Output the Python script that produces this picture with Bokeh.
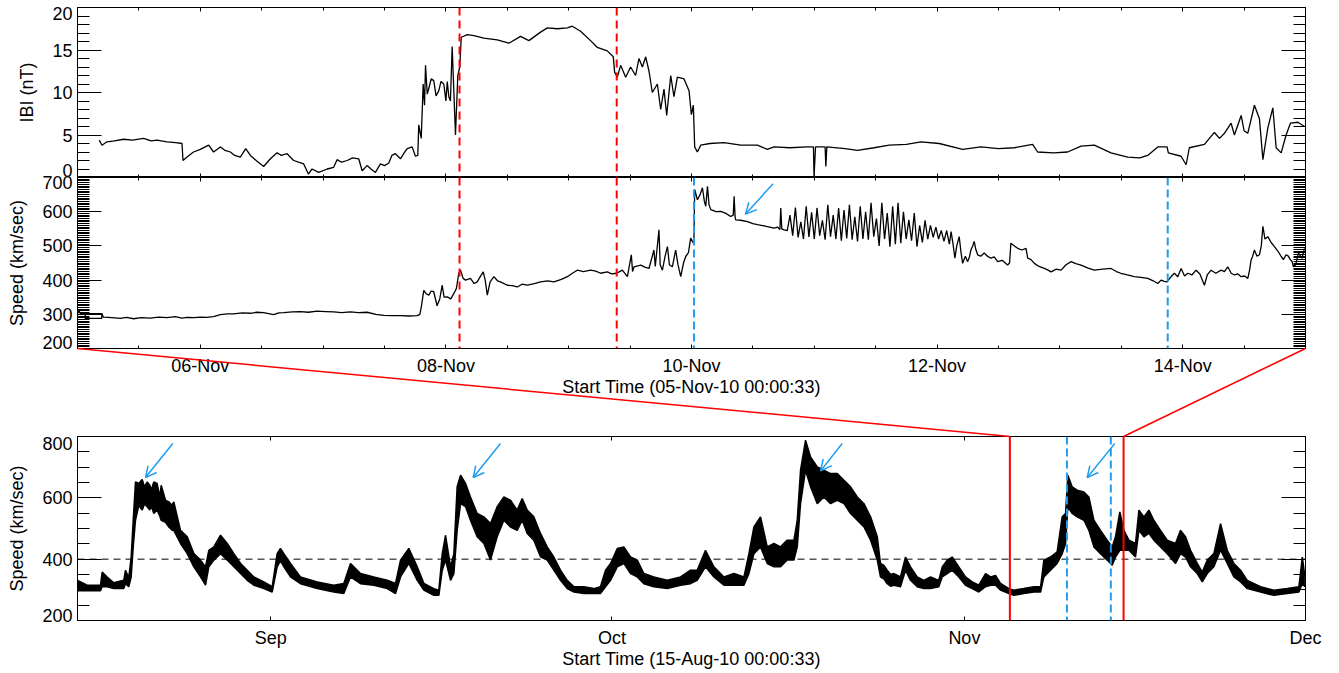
from datetime import datetime
from bokeh.plotting import figure
from bokeh.models import (FixedTicker, DatetimeTickFormatter, LinearAxis, DatetimeAxis,
                          Span, Arrow, OpenHead, Range1d, GridBox, CustomJSTickFormatter)
from bokeh.embed import file_html
from bokeh.resources import INLINE

# ---------------- data ----------------
# |B| (nT), days after 05-Nov-2010 00:00
ibi_day = [0.177,0.199,0.24,0.30,0.375,0.45,0.538,0.60,0.647,0.729,0.80,0.851,0.859,0.892,0.945,1.0,1.068,1.108,1.163,1.20,
           1.245,1.28,1.326,1.37,1.408,1.462,1.516,1.571,1.625,1.66,1.707,1.760,1.80,1.842,1.88,1.910,1.964,2.033,2.086,2.114,
           2.15,2.196,2.24,2.290,2.318,2.358,2.39,2.426,2.467,2.50,2.535,2.56,2.589,2.630,2.66,2.685,2.725,2.752,2.771,2.779,
           2.799,2.815,2.826,2.834,2.848,2.861,2.88,2.901,2.92,2.942,2.96,2.983,3.0,3.011,3.024,3.037,3.051,3.065,3.078,3.097,
           3.113,3.125,3.174,3.228,3.309,3.418,3.513,3.608,3.676,3.771,3.826,3.907,3.989,4.029,4.097,4.178,4.233,4.314,4.363,4.374,
           4.396,4.423,4.464,4.504,4.545,4.572,4.600,4.627,4.654,4.681,4.722,4.749,4.776,4.798,4.831,4.857,4.885,4.939,4.980,4.999,
           5.015,5.026,5.048,5.075,5.15,5.265,5.401,5.537,5.618,5.672,5.80,5.944,5.993,5.998,6.010,6.088,6.094,6.102,6.25,6.352,
           6.487,6.610,6.75,6.868,7.017,7.208,7.357,7.50,7.628,7.778,7.819,7.95,8.063,8.172,8.280,8.416,8.552,8.65,8.715,8.797,
           8.873,8.883,8.987,9.028,9.054,9.177,9.258,9.30,9.340,9.394,9.421,9.476,9.50,9.530,9.584,9.625,9.653,9.693,9.734,9.761,
           9.802,9.842,9.878,9.938,9.992]
ibi_nT = [4.4,3.8,4.2,4.3,4.5,4.4,4.6,4.3,4.4,4.2,4.1,4.0,2.0,2.4,3.0,3.3,3.8,3.0,3.6,3.2,
          3.0,2.6,2.4,3.4,2.6,1.9,1.3,2.2,2.9,2.6,2.8,2.0,1.8,1.6,0.4,1.0,0.6,1.0,1.2,2.1,
          1.8,2.0,2.3,2.2,0.8,1.4,1.0,0.6,1.6,1.4,1.7,2.6,2.8,2.2,2.9,3.4,3.6,2.5,2.6,6.2,
          4.6,11.0,8.5,13.2,9.8,10.5,11.6,11.4,9.6,10.2,11.3,11.0,9.0,11.3,9.5,9.0,15.4,10.0,5.0,12.0,
          13.0,16.5,16.8,16.7,16.4,16.2,15.8,16.6,16.1,17.1,17.6,17.5,17.6,17.8,17.2,16.1,15.3,14.9,14.2,12.4,
          11.8,13.2,11.8,13.0,12.0,14.0,13.0,14.2,12.5,10.0,11.0,8.0,10.4,7.3,12.0,9.5,11.8,11.6,10.2,7.4,
          8.5,3.6,3.0,3.8,4.0,4.1,3.8,3.8,3.3,3.6,3.5,3.6,3.6,0.1,3.6,3.6,1.3,3.6,3.4,3.2,
          3.5,3.8,3.9,4.2,4.0,3.3,3.6,3.4,3.5,3.9,3.0,2.9,3.0,3.7,3.8,2.9,2.4,2.3,2.6,3.6,
          3.6,2.9,2.5,1.5,3.5,3.9,5.3,4.6,5.2,6.4,5.0,7.3,5.5,5.2,8.5,6.9,2.1,5.8,8.2,3.5,
          2.9,5.0,6.4,6.5,6.0]

# solar-wind speed (km/s), days after 05-Nov-2010 00:00
spd_day = [0.0,0.012,0.025,0.063,0.063,0.198,0.198,0.063,0.198,0.21,0.28,0.349,0.40,0.456,0.52,0.592,0.66,0.729,0.796,0.85,
           0.892,0.95,1.0,1.05,1.108,1.163,1.22,1.271,1.34,1.408,1.46,1.516,1.597,1.64,1.679,1.75,1.815,1.88,1.951,2.02,
           2.086,2.15,2.222,2.29,2.358,2.43,2.494,2.56,2.630,2.70,2.766,2.788,2.799,2.820,2.84,2.861,2.88,2.901,2.928,2.95,
           2.970,2.985,3.011,3.040,3.065,3.085,3.105,3.119,3.140,3.160,3.200,3.230,3.255,3.280,3.304,3.320,3.337,3.360,3.391,3.420,
           3.445,3.500,3.540,3.581,3.620,3.663,3.720,3.771,3.830,3.880,3.940,3.989,4.030,4.070,4.120,4.178,4.220,4.260,4.314,4.350,
           4.390,4.437,4.478,4.510,4.520,4.532,4.587,4.620,4.654,4.694,4.705,4.735,4.745,4.763,4.785,4.804,4.820,4.844,4.871,4.890,
           4.912,4.935,4.953,4.975,4.993,5.015,5.020,5.026,5.048,5.070,5.089,5.105,5.116,5.130,5.143,5.157,5.200,5.238,5.280,5.319,
           5.340,5.347,5.355,5.360,5.400,5.456,5.500,5.537,5.600,5.672,5.700,5.720,5.727,5.735,5.754,
           5.780,5.802,5.824,5.846,5.868,5.890,5.912,5.934,5.956,5.978,6.000,6.022,6.044,6.066,6.088,6.110,6.132,6.154,6.176,6.198,
           6.220,6.242,6.264,6.286,6.308,6.330,6.352,6.374,6.396,6.418,6.440,6.462,6.484,6.506,6.528,6.550,6.572,6.594,6.616,6.638,
           6.660,6.682,6.704,6.726,6.748,6.770,6.792,6.814,6.836,6.858,6.880,6.902,6.924,6.946,6.968,6.990,7.012,7.034,7.056,7.078,
           7.100,7.114,7.130,7.145,7.160,7.180,7.195,7.208,7.230,7.249,7.265,7.275,7.290,7.302,
           7.315,7.330,7.355,7.384,7.410,7.438,7.465,7.493,7.530,7.574,7.590,7.601,7.630,7.656,7.690,7.724,7.738,7.765,7.792,7.830,
           7.873,7.900,7.928,7.970,8.010,8.050,8.091,8.130,8.172,8.230,8.280,8.350,8.416,8.460,8.497,8.550,8.606,8.660,8.715,8.760,
           8.797,8.824,8.850,8.873,8.883,8.910,8.932,8.960,8.987,9.015,9.042,9.075,9.109,9.140,9.177,9.200,9.231,9.270,9.313,9.340,
           9.367,9.395,9.421,9.450,9.476,9.505,9.530,9.545,9.557,9.570,9.584,9.605,9.625,9.640,9.653,9.670,9.693,9.720,9.747,9.775,
           9.802,9.820,9.842,9.860,9.878,9.890,9.902,9.920,9.943,9.960,9.971,9.992]
spd_kms = [302,310,302,302,288,288,302,302,302,292,290,288,291,287,290,289,292,290,293,289,
           291,290,292,291,293,299,301,301,304,303,306,305,299,304,305,307,308,306,309,308,
           307,305,307,305,306,300,297,296,296,295,296,300,320,370,360,356,368,366,325,345,
           385,350,351,345,361,375,420,429,405,400,405,390,395,410,424,400,356,395,410,398,
           395,385,384,380,388,385,390,395,398,395,402,410,420,429,425,429,426,420,424,418,
           420,429,410,474,425,439,444,438,434,488,440,547,445,429,470,498,445,439,488,445,
           410,450,469,480,523,508,520,665,635,650,670,630,616,674,620,606,600,601,595,586,
           590,645,585,576,575,571,565,562,558,552,555,548,611,550,547,
           545,590,530,612,525,570,520,616,526,598,520,611,530,575,518,620,527,590,520,611,
           515,605,522,620,518,585,513,616,520,600,518,626,527,580,500,626,520,596,498,616,
           505,626,508,600,520,576,515,596,498,560,510,575,520,560,525,555,520,545,513,545,
           505,542,505,464,500,527,480,449,470,454,470,488,500,513,
           490,474,470,479,470,464,468,454,458,444,450,508,500,493,488,493,464,460,449,440,
           434,430,424,432,429,445,454,448,444,435,429,432,434,425,420,415,410,408,405,398,
           390,400,396,395,400,412,420,410,434,412,420,415,429,418,385,415,429,420,429,425,
           439,420,415,418,410,412,405,430,459,470,488,470,474,500,557,520,527,510,498,485,
           469,460,474,470,459,455,439,445,479,470,464,493]

# long-term speed envelope (km/s), days after 15-Aug-2010 00:00
aug_day = [0.0,0.85,2.02,2.17,2.61,3.19,4.07,4.22,4.51,4.72,4.90,5.10,5.39,5.69,5.89,6.13,6.36,6.48,6.71,7.00,
           7.24,7.36,7.74,8.03,8.32,8.47,9.06,9.65,
           10.23,10.82,11.26,11.55,11.99,12.58,13.17,13.75,14.34,14.93,15.51,16.39,17.12,17.56,17.85,18.15,18.73,19.61,21.08,22.54,
           23.42,24.01,24.89,26.06,27.24,27.97,28.41,29.14,29.88,30.46,31.34,31.78,32.08,32.37,32.81,33.10,33.39,33.69,34.13,34.56,
           35.15,35.74,36.32,36.91,37.50,38.08,38.67,39.11,39.55,40.13,40.72,41.31,41.89,42.48,43.07,43.66,44.53,45.41,45.99,46.44,
           46.88,47.47,48.05,48.64,49.23,49.81,50.69,51.87,53.04,53.91,54.50,55.23,55.97,56.85,57.73,58.61,59.05,59.49,60.07,60.66,
           61.25,61.83,62.42,63.01,63.30,63.59,64.03,64.47,65.06,65.64,66.23,66.82,67.41,67.99,68.58,69.17,69.75,70.34,70.62,70.93,
           71.21,71.51,71.80,72.38,72.82,73.26,73.85,74.43,75.02,75.75,76.05,76.49,76.93,77.51,78.10,78.69,79.27,79.86,80.30,80.74,
           81.18,81.91,82.35,83.23,84.11,84.70,84.99,85.57,86.16,86.60,86.90,87.10,87.48,87.92,88.51,88.95,89.39,89.97,90.56,91.00,
           91.29,91.67,92.03,92.47,93.05,93.35,93.79,94.23,94.66,95.25,95.84,96.57,97.01,97.45,97.89,98.48,98.92,99.36,99.94,100.53,
           101.12,101.70,102.29,102.88,104.05,105.22,106.40,107.42,107.72,107.95]
aug_lo = [297,297,297,310,310,304,304,320,310,342,440,527,575,560,580,571,560,575,549,560,
          540,527,520,505,494,494,451,418,
          375,342,315,375,397,418,397,375,353,331,315,304,293,375,395,375,342,320,304,293,
          288,342,320,315,304,288,342,386,331,299,282,282,364,397,331,353,494,581,571,527,
          473,451,397,473,527,505,494,527,484,462,408,397,364,331,304,293,288,288,288,310,
          331,375,386,353,342,320,310,304,315,320,331,375,342,315,315,315,353,418,440,386,
          375,375,397,397,440,581,690,636,581,603,581,592,581,549,527,505,462,397,342,335,
          320,312,315,310,364,331,310,304,304,310,342,353,364,342,315,304,293,310,315,315,
          299,288,282,288,293,293,342,364,386,418,451,571,549,538,527,494,440,418,397,380,
          407,429,429,429,407,494,473,484,462,440,418,386,418,407,375,353,326,353,375,429,
          386,342,326,304,293,282,288,293,320,310]
aug_hi = [331,315,315,358,342,323,331,364,340,407,527,652,647,660,636,652,641,625,652,647,
          603,641,592,587,576,587,494,473,
          418,397,375,429,440,478,451,418,386,364,342,326,310,418,435,418,386,342,326,315,
          321,386,353,342,331,321,397,435,375,321,304,299,418,478,375,418,636,674,647,603,
          549,538,516,571,603,592,560,598,560,538,484,440,407,364,331,310,310,304,310,364,
          386,435,440,407,397,353,342,331,342,364,364,429,375,342,353,342,418,505,538,440,
          451,440,462,462,527,690,788,733,701,690,679,679,657,636,603,581,538,473,386,380,
          364,350,353,342,407,375,342,331,342,331,375,397,407,375,342,326,315,353,342,347,
          321,304,299,304,310,310,397,407,424,538,549,674,636,625,619,603,527,494,462,440,
          473,554,494,462,451,560,538,560,527,494,462,451,494,473,429,386,358,397,418,516,
          429,386,364,331,310,299,304,310,407,342]

# event times (days after 05-Nov-2010)
red_dash_day = [3.111, 4.391]
blue_dash_day = [5.020, 8.878]
zoom_window_day = [0.0, 10.0]            # 05-Nov .. 15-Nov, marked in the long panel
# arrows (tail day, tail value, tip day, tip value)
arrow_mid = [(5.664, 681.5, 5.44, 593.0)]
arrow_bot = [(8.38, 777.0, 5.98, 666.0), (37.2, 777.0, 34.8, 666.0),
             (67.25, 777.0, 65.36, 688.0), (91.23, 777.0, 88.8, 666.0)]

# axis ranges and tick labels
ibi_range = (0, 20)
spd_range = (200, 700)
aug_range = (200, 800)
top_ticks_day = [1, 3, 5, 7, 9]           # 06-Nov .. 14-Nov
ibi_ticks = [5, 10, 15]
spd_ticks = [300, 400, 500, 600]
aug_ticks = [400, 600]

# ---------------- helpers ----------------
DAY = 86400000.0
def ms(*a):
    return (datetime(*a) - datetime(1970, 1, 1)).total_seconds() * 1000.0

T_NOV5 = ms(2010, 11, 5)
T_AUG15 = ms(2010, 8, 15)
T_END_TOP = T_NOV5 + 10 * DAY
T_END_BOT = ms(2010, 12, 1)
month_ticks = [ms(2010, 9, 1), ms(2010, 10, 1), ms(2010, 11, 1), ms(2010, 12, 1)]

FONT = "Liberation Sans"
FS = "18px"
BLUE = "#1e9cf0"
RED = "#ff0000"

# layout geometry (pixels)
W = 1335
FL, FR = 77, 1305
FW = FR - FL
HA, HB, HC = 177, 223, 273
A_TOP = 7
B_BOT = 52
C_TOP, C_BOT = 36, 53
H = HA + HB + HC

EMPTY = CustomJSTickFormatter(code="return ''")

def base_fig(h, xr, yr, bt, bb):
    p = figure(width=W, height=h, x_range=xr, y_range=yr, x_axis_type=None, y_axis_type=None,
               output_backend="svg", toolbar_location=None,
               min_border_left=FL, min_border_right=W - FR, min_border_top=bt, min_border_bottom=bb)
    p.outline_line_color = "black"
    p.outline_line_alpha = 1.0
    p.background_fill_color = "white"
    p.border_fill_color = "white"
    return p

def y_axes(p, major, minor, label):
    for side in ("left", "right"):
        ax = LinearAxis(ticker=FixedTicker(ticks=major, minor_ticks=minor))
        ax.major_tick_in, ax.major_tick_out = 24, 0
        ax.minor_tick_in, ax.minor_tick_out = 12, 0
        ax.axis_line_color = "black"
        ax.major_tick_line_color = "black"
        ax.minor_tick_line_color = "black"
        if side == "left":
            ax.axis_label = label
            ax.axis_label_text_font = FONT
            ax.axis_label_text_font_size = FS
            ax.axis_label_text_font_style = "normal"
            ax.axis_label_text_color = "black"
            ax.axis_label_standoff = 12
            ax.major_label_text_font = FONT
            ax.major_label_text_font_size = FS
            ax.major_label_text_color = "black"
            ax.major_label_standoff = 5
        else:
            ax.formatter = EMPTY
            ax.major_label_text_font_size = "0px"
            ax.major_label_standoff = 0
        p.add_layout(ax, side)

def x_axes(p, major, minor, fmt, label=None, show=True, tick_in=4, minor_in=3):
    for side in ("below", "above"):
        ax = DatetimeAxis(ticker=FixedTicker(ticks=major, minor_ticks=minor), formatter=fmt)
        ax.major_tick_in, ax.major_tick_out = tick_in, 0
        ax.minor_tick_in, ax.minor_tick_out = minor_in, 0
        ax.axis_line_color = "black"
        ax.major_tick_line_color = "black"
        ax.minor_tick_line_color = "black"
        if side == "below" and show:
            ax.major_label_text_font = FONT
            ax.major_label_text_font_size = FS
            ax.major_label_text_color = "black"
            ax.major_label_standoff = 7
            if label:
                ax.axis_label = label
                ax.axis_label_text_font = FONT
                ax.axis_label_text_font_size = FS
                ax.axis_label_text_font_style = "normal"
                ax.axis_label_text_color = "black"
                ax.axis_label_standoff = -2
        else:
            ax.formatter = EMPTY
            ax.major_label_text_font_size = "0px"
            ax.major_label_standoff = 0
        p.add_layout(ax, side)

def fmt_all(f):
    return DatetimeTickFormatter(microseconds=f, milliseconds=f, seconds=f, minsec=f, minutes=f, hourmin=f,
                                 hours=f, days=f, months=f, years=f, strip_leading_zeros=False)

top_fmt = fmt_all("%d-%b")
bot_fmt = fmt_all("%b")
top_major = [T_NOV5 + d * DAY for d in top_ticks_day]
top_minor = [T_NOV5 + 0.5 * k * DAY for k in range(0, 21)]

# ---------------- panel A: |B| ----------------
xr_top = Range1d(T_NOV5, T_END_TOP)
pA = base_fig(HA, xr_top, Range1d(*ibi_range), A_TOP, 0)
y_axes(pA, ibi_ticks, list(range(0, 21)), "IBI (nT)")
x_axes(pA, top_major, top_minor, top_fmt, show=False)
pA.line([T_NOV5 + d * DAY for d in ibi_day], ibi_nT, line_color="black", line_width=1.3)
for d in red_dash_day:
    pA.add_layout(Span(location=T_NOV5 + d * DAY, dimension="height", line_color=RED,
                       line_dash="8 5", line_width=2))

# ---------------- panel B: speed, 05-15 Nov ----------------
pB = base_fig(HB, xr_top, Range1d(*spd_range), 0, B_BOT)
y_axes(pB, spd_ticks, list(range(200, 701, 5)), "Speed (km/sec)")
x_axes(pB, top_major, top_minor, top_fmt, label="Start Time (05-Nov-10 00:00:33)")
pB.line([T_NOV5 + d * DAY for d in spd_day], spd_kms, line_color="black", line_width=1.3)
for d in red_dash_day:
    pB.add_layout(Span(location=T_NOV5 + d * DAY, dimension="height", line_color=RED,
                       line_dash="8 5", line_width=2))
for d in blue_dash_day:
    pB.add_layout(Span(location=T_NOV5 + d * DAY, dimension="height", line_color=BLUE,
                       line_dash="8 4", line_width=2))
for (t0, v0, t1, v1) in arrow_mid:
    pB.add_layout(Arrow(end=OpenHead(size=11, line_color=BLUE, line_width=1.5),
                        x_start=T_NOV5 + t0 * DAY, y_start=v0, x_end=T_NOV5 + t1 * DAY, y_end=v1,
                        line_color=BLUE, line_width=1.5))

# ---------------- panel C: speed, 15 Aug - 1 Dec ----------------
pC = base_fig(HC, Range1d(T_AUG15, T_END_BOT), Range1d(*aug_range), C_TOP, C_BOT)
y_axes(pC, aug_ticks, list(range(200, 801, 50)), "Speed (km/sec)")
x_axes(pC, month_ticks, [], bot_fmt, label="Start Time (15-Aug-10 00:00:33)", tick_in=4, minor_in=0)
tx = [T_AUG15 + d * DAY for d in aug_day]
pC.varea(x=tx, y1=aug_lo, y2=aug_hi, fill_color="black")
pC.line(tx, aug_hi, line_color="black", line_width=1.5)
pC.line(tx, aug_lo, line_color="black", line_width=1.5)
pC.add_layout(Span(location=400, dimension="width", line_color="black", line_dash="7 5", line_width=1))
for d in zoom_window_day:
    pC.add_layout(Span(location=T_NOV5 + d * DAY, dimension="height", line_color=RED, line_width=2))
for d in blue_dash_day:
    pC.add_layout(Span(location=T_NOV5 + d * DAY, dimension="height", line_color=BLUE,
                       line_dash="8 4", line_width=2))
for (t0, v0, t1, v1) in arrow_bot:
    pC.add_layout(Arrow(end=OpenHead(size=11, line_color=BLUE, line_width=1.5),
                        x_start=T_AUG15 + t0 * DAY, y_start=v0, x_end=T_AUG15 + t1 * DAY, y_end=v1,
                        line_color=BLUE, line_width=1.5))

# ---------------- transparent overlay spanning all panels ----------------
# its frame is aligned with the panels' frames: x = FL..FR, y = A frame top .. C frame bottom (pixels)
yA0, yA1 = A_TOP, HA                       # frame top / bottom of A
yB0, yB1 = HA, HA + HB - B_BOT             # frame of B
yC0, yC1 = HA + HB + C_TOP, H - C_BOT      # frame of C

ov = figure(width=W, height=H, x_range=Range1d(FL, FR), y_range=Range1d(yC1, yA0),
            x_axis_type=None, y_axis_type=None, output_backend="svg", toolbar_location=None,
            min_border_left=FL, min_border_right=W - FR, min_border_top=yA0, min_border_bottom=H - yC1)
ov.outline_line_color = None
ov.background_fill_color = None
ov.border_fill_color = None

def xC(t):
    return FL + (t - T_AUG15) / (T_END_BOT - T_AUG15) * FW

# zoom connectors: B frame corners -> C red window lines
x0s, y0s, x1s, y1s = [], [], [], []
for corner_x, d in ((FL, zoom_window_day[0]), (FR, zoom_window_day[1])):
    x0s.append(corner_x); y0s.append(yB1)
    x1s.append(xC(T_NOV5 + d * DAY)); y1s.append(yC0)
ov.segment(x0=x0s, y0=y0s, x1=x1s, y1=y1s, line_color=RED, line_width=1.5)

# end-of-range tick labels, kept inside each panel's extent (as in the original)
end_pos = [yA0 + 6, yA1 - 7, yB0 + 5, yB1 - 6, yC0 + 7, yC1 - 5]
end_lab = [str(ibi_range[1]), str(ibi_range[0]), str(spd_range[1]), str(spd_range[0]),
           str(aug_range[1]), str(aug_range[0])]
end_ax = LinearAxis(ticker=FixedTicker(ticks=end_pos, minor_ticks=[]),
                    formatter=CustomJSTickFormatter(args=dict(pos=end_pos, labs=end_lab), code="""
    for (let i = 0; i < pos.length; i++) { if (Math.abs(pos[i] - tick) < 0.5) return labs[i]; }
    return '';
"""))
end_ax.axis_line_color = None
end_ax.major_tick_line_color = None
end_ax.minor_tick_line_color = None
end_ax.major_tick_in, end_ax.major_tick_out = 0, 0
end_ax.major_label_standoff = 5
end_ax.major_label_text_font = FONT
end_ax.major_label_text_font_size = FS
end_ax.major_label_text_color = "black"
ov.add_layout(end_ax, "left")

layout = GridBox(children=[(pA, 0, 0), (pB, 1, 0), (pC, 2, 0), (ov, 0, 0, 3, 1)])
open("out.html", "w").write(file_html(layout, INLINE))
